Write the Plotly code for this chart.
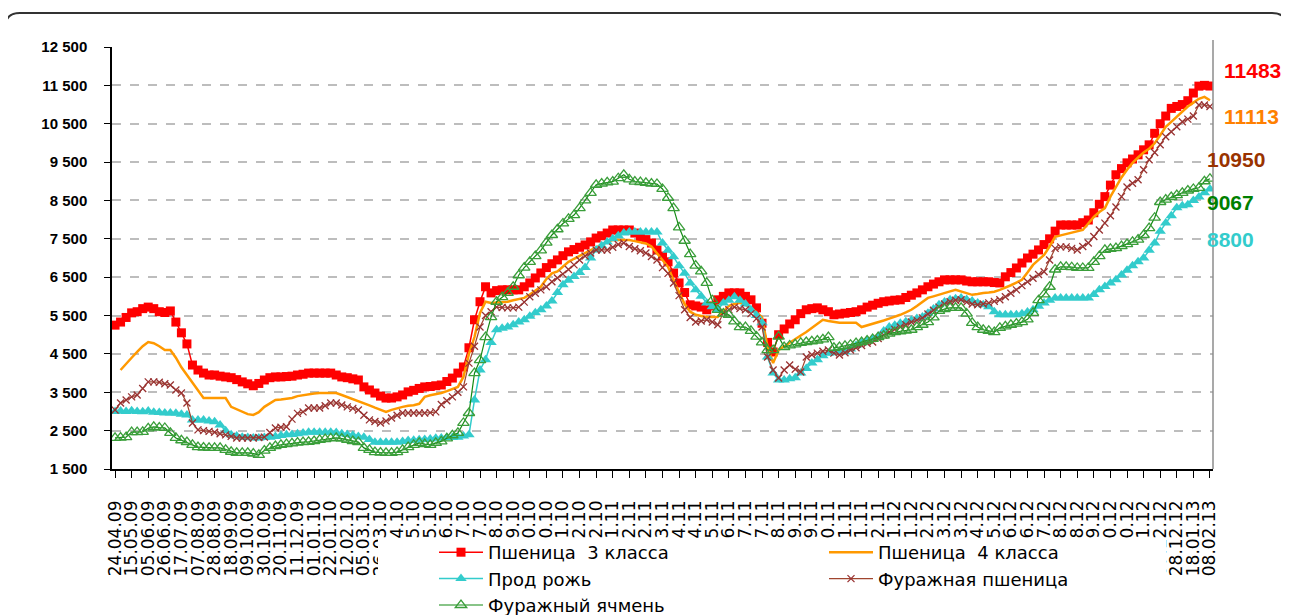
import plotly.graph_objects as go
from datetime import date, timedelta

# ---- categories (weekly dates) and tick labels ----
start = date(2009, 4, 24)
weeks = [(start + timedelta(days=7 * i)).strftime('%d.%m.%y') for i in range(199)]
tick_labels = weeks[::3]

y_ticks = [1500, 2500, 3500, 4500, 5500, 6500, 7500, 8500, 9500, 10500, 11500, 12500]
y_tick_text = ['1 500', '2 500', '3 500', '4 500', '5 500', '6 500', '7 500',
               '8 500', '9 500', '10 500', '11 500', '12 500']

# ---- series values (руб./т) ----
wheat3 = [
    5250, 5330, 5450, 5570, 5600, 5680, 5720, 5680, 5600, 5580,
    5620, 5330, 5050, 4760, 4210, 4080, 4000, 3950, 3950, 3920,
    3900, 3880, 3830, 3770, 3720, 3670, 3730, 3820, 3880, 3900,
    3900, 3910, 3920, 3950, 3970, 4000, 4000, 4000, 4000, 4000,
    3950, 3900, 3880, 3850, 3820, 3640, 3560, 3480, 3400, 3350,
    3350, 3380, 3430, 3510, 3550, 3600, 3640, 3650, 3670, 3690,
    3780, 3870, 4000, 4160, 4660, 5390, 5860, 6250, 6090, 6150,
    6170, 6170, 6170, 6170, 6250, 6350, 6480, 6610, 6750, 6850,
    6950, 7060, 7160, 7220, 7280, 7340, 7420, 7520, 7580, 7650,
    7730, 7730, 7730, 7730, 7650, 7560, 7480, 7390, 7210, 7050,
    6900, 6610, 6350, 6100, 5780, 5750, 5720, 5650, 5750, 5910,
    6000, 6090, 6090, 6090, 6000, 5910, 5700, 5300, 4800, 4550,
    5000, 5150, 5280, 5390, 5550, 5650, 5680, 5700, 5650, 5600,
    5520, 5540, 5560, 5580, 5600, 5650, 5720, 5770, 5820, 5860,
    5880, 5900, 5910, 5970, 6030, 6090, 6170, 6250, 6320, 6380,
    6430, 6430, 6430, 6430, 6400, 6380, 6380, 6380, 6380, 6360,
    6350, 6510, 6620, 6740, 6870, 7000, 7100, 7210, 7350, 7500,
    7700, 7860, 7860, 7860, 7860, 7920, 7990, 8180, 8400, 8600,
    8900, 9170, 9330, 9480, 9580, 9690, 9820, 9950, 10250, 10500,
    10700, 10900, 10950, 11000, 11100, 11300, 11480, 11500, 11483,
]

wheat4 = [
    None, 4080, 4250, 4400, 4550, 4700, 4810, 4780, 4700, 4600,
    4600, 4400, 4150, 3950, 3750, 3550, 3350, 3350, 3350, 3350,
    3350, 3120, 3050, 2990, 2930, 2910, 2980, 3120, 3220, 3300,
    3310, 3330, 3350, 3400, 3430, 3450, 3470, 3480, 3480, 3480,
    3480, 3430, 3380, 3330, 3280, 3220, 3160, 3100, 3040, 2990,
    3040, 3090, 3120, 3150, 3160, 3200, 3380, 3420, 3450, 3480,
    3530, 3590, 3640, 3900, 4500, 4940, 5570, 5860, 5830, 5840,
    5850, 5860, 5900, 5930, 5960, 6050, 6150, 6250, 6450, 6600,
    6650, 6780, 6900, 6980, 7060, 7140, 7210, 7280, 7350, 7420,
    7470, 7470, 7470, 7470, 7440, 7410, 7380, 7300, 7130, 6950,
    6770, 6420, 6100, 5800, 5600, 5520, 5490, 5460, 5460, 5460,
    5600, 5750, 5800, 5830, 5780, 5700, 5580, 5460, 4680, 4260,
    4600, 4700, 4790, 4880, 4980, 5070, 5180, 5290, 5390, 5360,
    5330, 5310, 5310, 5310, 5310, 5200, 5240, 5280, 5330, 5370,
    5420, 5460, 5520, 5580, 5650, 5750, 5860, 5960, 6000, 6050,
    6090, 6130, 6170, 6120, 6080, 6040, 6060, 6090, 6100, 6120,
    6170, 6220, 6290, 6360, 6430, 6620, 6820, 6950, 7080, 7300,
    7550, 7590, 7620, 7650, 7700, 7730, 7900, 8070, 8200, 8300,
    8600, 8850, 9100, 9300, 9480, 9620, 9750, 9850, 9990, 10200,
    10420, 10550, 10680, 10800, 10950, 11050, 11150, 11200, 11113,
]

rye = [
    3000, 3010, 3000, 3020, 3000, 2990, 3010, 2980, 2970, 2960,
    2960, 2950, 2930, 2910, 2780, 2780, 2780, 2750, 2730, 2650,
    2500, 2390, 2360, 2330, 2320, 2310, 2310, 2320, 2330, 2350,
    2370, 2390, 2400, 2420, 2440, 2460, 2460, 2460, 2460, 2460,
    2450, 2420, 2400, 2380, 2350, 2330, 2270, 2200, 2200, 2200,
    2200, 2200, 2220, 2240, 2250, 2260, 2270, 2280, 2300, 2310,
    2320, 2320, 2330, 2360, 2390, 3300, 4080, 4350, 4800, 5130,
    5170, 5200, 5260, 5330, 5390, 5480, 5570, 5650, 5750, 5880,
    6100, 6300, 6420, 6520, 6620, 6750, 7000, 7210, 7320, 7420,
    7500, 7580, 7650, 7680, 7680, 7680, 7680, 7680, 7680, 7390,
    7200, 7030, 6800, 6600, 6350, 6170, 6000, 5830, 5730, 5650,
    5830, 5900, 5990, 5900, 5800, 5650, 5500, 5310, 4420, 4000,
    3820, 3820, 3850, 3880, 4000, 4120, 4260, 4350, 4450, 4520,
    4530, 4540, 4550, 4630, 4720, 4790, 4840, 4890, 4940, 5100,
    5200, 5250, 5300, 5340, 5380, 5420, 5460, 5560, 5670, 5780,
    5850, 5910, 5940, 5960, 5920, 5880, 5830, 5780, 5730, 5600,
    5520, 5520, 5520, 5520, 5550, 5590, 5650, 5740, 5830, 5900,
    5960, 5960, 5960, 5960, 5960, 5960, 5960, 6050, 6170, 6260,
    6350, 6430, 6560, 6680, 6800, 6900, 7000, 7200, 7390, 7700,
    7910, 8100, 8310, 8360, 8390, 8500, 8590, 8700, 8800,
]

feed_wheat = [
    3040, 3220, 3300, 3380, 3430, 3600, 3770, 3770, 3760, 3720,
    3690, 3560, 3480, 3220, 2700, 2520, 2500, 2480, 2460, 2420,
    2390, 2350, 2310, 2310, 2310, 2310, 2320, 2330, 2450, 2570,
    2590, 2600, 2800, 2950, 2990, 3090, 3090, 3090, 3150, 3220,
    3220, 3170, 3120, 3080, 3040, 2900, 2780, 2740, 2700, 2750,
    2830, 2900, 2960, 2960, 2960, 2960, 2960, 2970, 2990, 3180,
    3280, 3380, 3500, 3640, 4260, 4700, 5200, 5500, 5600, 5720,
    5710, 5700, 5700, 5720, 5850, 5990, 6080, 6170, 6250, 6380,
    6480, 6580, 6700, 6820, 6950, 7050, 7130, 7210, 7210, 7210,
    7280, 7350, 7390, 7300, 7240, 7190, 7130, 7040, 6950, 6750,
    6600, 6350, 6020, 5650, 5450, 5330, 5360, 5390, 5330, 5260,
    5570, 5650, 5720, 5680, 5650, 5550, 5420, 5200, 4420, 4080,
    3870, 4080, 4210, 4100, 4030, 4420, 4480, 4520, 4570, 4600,
    4520, 4470, 4530, 4600, 4660, 4720, 4780, 4810, 4900, 4990,
    5070, 5140, 5200, 5260, 5330, 5380, 5440, 5540, 5640, 5720,
    5800, 5860, 5900, 5910, 5850, 5800, 5780, 5800, 5830, 5870,
    5910, 5990, 6080, 6170, 6280, 6380, 6470, 6570, 6640, 6950,
    7250, 7290, 7290, 7250, 7210, 7300, 7390, 7560, 7730, 7910,
    8100, 8330, 8600, 8850, 8950, 9040, 9300, 9560, 9750, 9950,
    10160, 10290, 10420, 10550, 10620, 10700, 10990, 10990, 10950,
]

feed_barley = [
    2310, 2320, 2330, 2460, 2460, 2470, 2560, 2600, 2580, 2570,
    2440, 2310, 2250, 2200, 2130, 2070, 2060, 2050, 2050, 2050,
    2000, 1950, 1920, 1920, 1920, 1900, 1870, 1980, 2050, 2100,
    2130, 2150, 2170, 2190, 2200, 2210, 2230, 2260, 2280, 2300,
    2310, 2290, 2260, 2230, 2200, 2050, 2000, 1940, 1930, 1920,
    1920, 1940, 2000, 2070, 2130, 2180, 2150, 2130, 2180, 2220,
    2300, 2380, 2440, 2700, 2960, 4000, 4340, 4940, 5460, 5860,
    5980, 6090, 6250, 6550, 6750, 6900, 7050, 7200, 7400, 7600,
    7750, 7900, 8020, 8120, 8300, 8500, 8700, 8910, 8940, 8970,
    8990, 9080, 9170, 9050, 8990, 8980, 8960, 8940, 8930, 8800,
    8570, 8300, 7800, 7450, 7100, 6800, 6650, 6350, 5900, 5650,
    5550, 5520, 5350, 5200, 5200, 5100, 4950, 4800, 4600, 4600,
    4950, 4680, 4720, 4750, 4790, 4810, 4830, 4850, 4880, 4940,
    4660, 4680, 4710, 4740, 4780, 4810, 4850, 4890, 4940, 4980,
    5030, 5070, 5090, 5110, 5130, 5200, 5260, 5330, 5450, 5620,
    5670, 5700, 5700, 5700, 5550, 5310, 5200, 5130, 5100, 5070,
    5180, 5220, 5260, 5290, 5330, 5400, 5570, 5900, 6050, 6250,
    6700, 6770, 6770, 6760, 6740, 6740, 6740, 6900, 7050, 7210,
    7240, 7260, 7310, 7360, 7420, 7480, 7600, 7780, 8050, 8460,
    8520, 8590, 8640, 8700, 8760, 8800, 8830, 9000, 9067,
]

end_labels = ['11483', '11113', '10950', '9067', '8800']

# ---- figure ----
fig = go.Figure()

fig.add_trace(go.Scatter(
    x=weeks, y=wheat3, name='Пшеница\u00a0 3 класса', mode='lines+markers',
    line=dict(color='#FF0000', width=1.5),
    marker=dict(symbol='square', size=9, color='#FF0000')))
fig.add_trace(go.Scatter(
    x=weeks, y=wheat4, name='Пшеница\u00a0 4 класса', mode='lines',
    line=dict(color='#FF9900', width=2.5)))
fig.add_trace(go.Scatter(
    x=weeks, y=rye, name='Прод рожь', mode='lines+markers',
    line=dict(color='#33CCCC', width=1.5),
    marker=dict(symbol='triangle-up', size=10, color='#33CCCC')))
fig.add_trace(go.Scatter(
    x=weeks, y=feed_wheat, name='Фуражная пшеница', mode='lines+markers',
    line=dict(color='#A0452E', width=1.2),
    marker=dict(symbol='x-thin', size=7, color='#993333',
                line=dict(color='#993333', width=1.3))))
fig.add_trace(go.Scatter(
    x=weeks, y=feed_barley, name='Фуражный ячмень', mode='lines+markers',
    line=dict(color='#138A13', width=1.2),
    marker=dict(symbol='triangle-up-open', size=10, color='#3A9E3A',
                line=dict(color='#3A9E3A', width=1.3))))

series = [wheat3, wheat4, feed_wheat, feed_barley, rye]
colors = ['#FF0000', '#FF8000', '#993300', '#008000', '#33CCCC']
shifts = [(12, 16), (12, -16), (-5, -53), (-5, -24), (-5, -51)]
for s, txt, c, (dx, dy) in zip(series, end_labels, colors, shifts):
    fig.add_annotation(x=weeks[-1], y=s[-1], text='<b>%s</b>' % txt,
                       showarrow=False, xanchor='left', yanchor='middle',
                       xshift=dx, yshift=dy,
                       font=dict(family='Liberation Sans, Arial', size=21, color=c))

# plot geometry, in reference-picture pixels (page body adds an 8px offset)
OFF = 8
L, R, T, B = 112, 1213, 47, 469
W, H = R - L, B - T
FIG_W, FIG_H = 1289 - OFF, 615 - OFF
def px(x):
    return (x - L) / W
def py(y):
    return (B - y) / H

rx, ry = 15 / W, 15 / H
x0, x1, yt, yb = px(5), px(1287), py(13), py(640)
border = (f'M{x0},{yb} L{x0},{yt - ry} Q{x0},{yt} {x0 + rx},{yt} '
          f'L{x1 - rx},{yt} Q{x1},{yt} {x1},{yt - ry} L{x1},{yb}')

fig.update_layout(
    width=FIG_W, height=FIG_H,
    margin=dict(l=L - OFF, r=1289 - R, t=T - OFF, b=615 - B, autoexpand=False),
    paper_bgcolor='white', plot_bgcolor='white',
    font=dict(family='Liberation Sans, Arial', color='black'),
    showlegend=True,
    legend=dict(orientation='h', x=px(434), y=py(534), xanchor='left', yanchor='top',
                entrywidth=331, entrywidthmode='pixels', itemwidth=44,
                bgcolor='rgba(0,0,0,0)', tracegroupgap=0,
                font=dict(family='DejaVu Sans', size=18, color='black')),
    shapes=[
        dict(type='rect', xref='paper', yref='paper', x0=px(378), x1=px(1166),
             y0=py(538), y1=py(700), fillcolor='white', line=dict(width=0), layer='above'),
        dict(type='line', xref='paper', yref='paper', x0=1, x1=1, y0=0, y1=py(40),
             line=dict(color='#8C8C8C', width=1.5), layer='above'),
        dict(type='path', xref='paper', yref='paper', path=border,
             line=dict(color='#333333', width=2), layer='above'),
    ],
)

fig.update_xaxes(
    type='category', range=[-0.55, 198.55],
    tickmode='array', tickvals=tick_labels, ticktext=tick_labels,
    tickangle=-90, ticks='outside', ticklen=7, tickcolor='black', tickwidth=1,
    showline=True, linecolor='black', linewidth=1.5,
    showgrid=False, zeroline=False, ticklabelstandoff=16,
    tickfont=dict(family='DejaVu Sans', size=17, color='black'))

fig.update_yaxes(
    range=[1500, 12500], tickmode='array', tickvals=y_ticks, ticktext=y_tick_text,
    ticks='outside', ticklen=6, tickcolor='black', tickwidth=1,
    showline=True, linecolor='black', linewidth=1.5,
    showgrid=True, gridcolor='#BDBDBD', gridwidth=1.5, griddash='dash',
    zeroline=False, ticklabelstandoff=14,
    tickfont=dict(family='Liberation Sans, Arial', size=15, color='black', weight='bold'))

fig.write_html('out.html')
